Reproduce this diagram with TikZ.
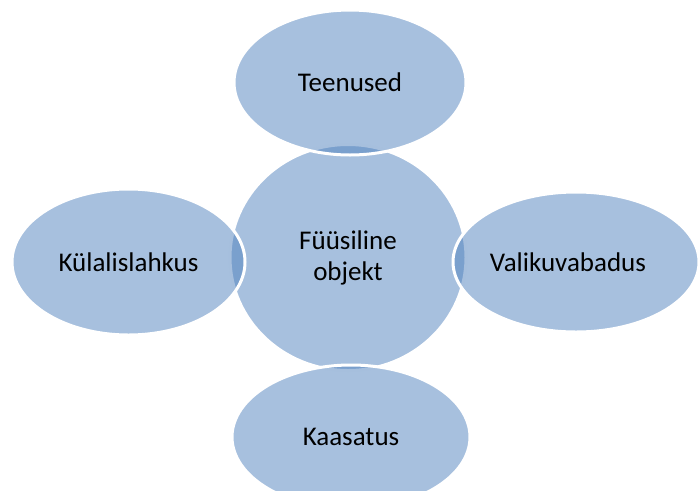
\documentclass[tikz,border=0pt]{standalone}
\usepackage{fontspec}
\setmainfont{Carlito}
\usetikzlibrary{shapes.geometric}
\definecolor{accentblue}{RGB}{79,129,189}
\tikzset{
  blob/.style={ellipse, inner sep=0pt, fill=accentblue, fill opacity=0.5,
    text opacity=1, draw=white, line width=3pt, text=black,
    font=\fontsize{27pt}{31pt}\selectfont, align=center}
}
\begin{document}
\begin{tikzpicture}[x=1pt,y=-1pt]
\useasboundingbox (0,0) rectangle (698,490);
\clip (0,0) rectangle (698,490);
\node[blob, minimum width=236pt, minimum height=226pt] (c) at (348,257.5) {Füüsiline\\objekt};
\node[blob, minimum width=232pt, minimum height=145pt] (t) at (350,82.5) {Teenused};
\node[blob, minimum width=233pt, minimum height=146pt] (l) at (128.5,262) {Külalislahkus};
\node[blob, minimum width=246pt, minimum height=140pt] (r) at (576,262) {Valikuvabadus\hspace*{16pt}};
\node[blob, minimum width=238pt, minimum height=144pt] (b) at (351,437) {Kaasatus};
\end{tikzpicture}
\end{document}
